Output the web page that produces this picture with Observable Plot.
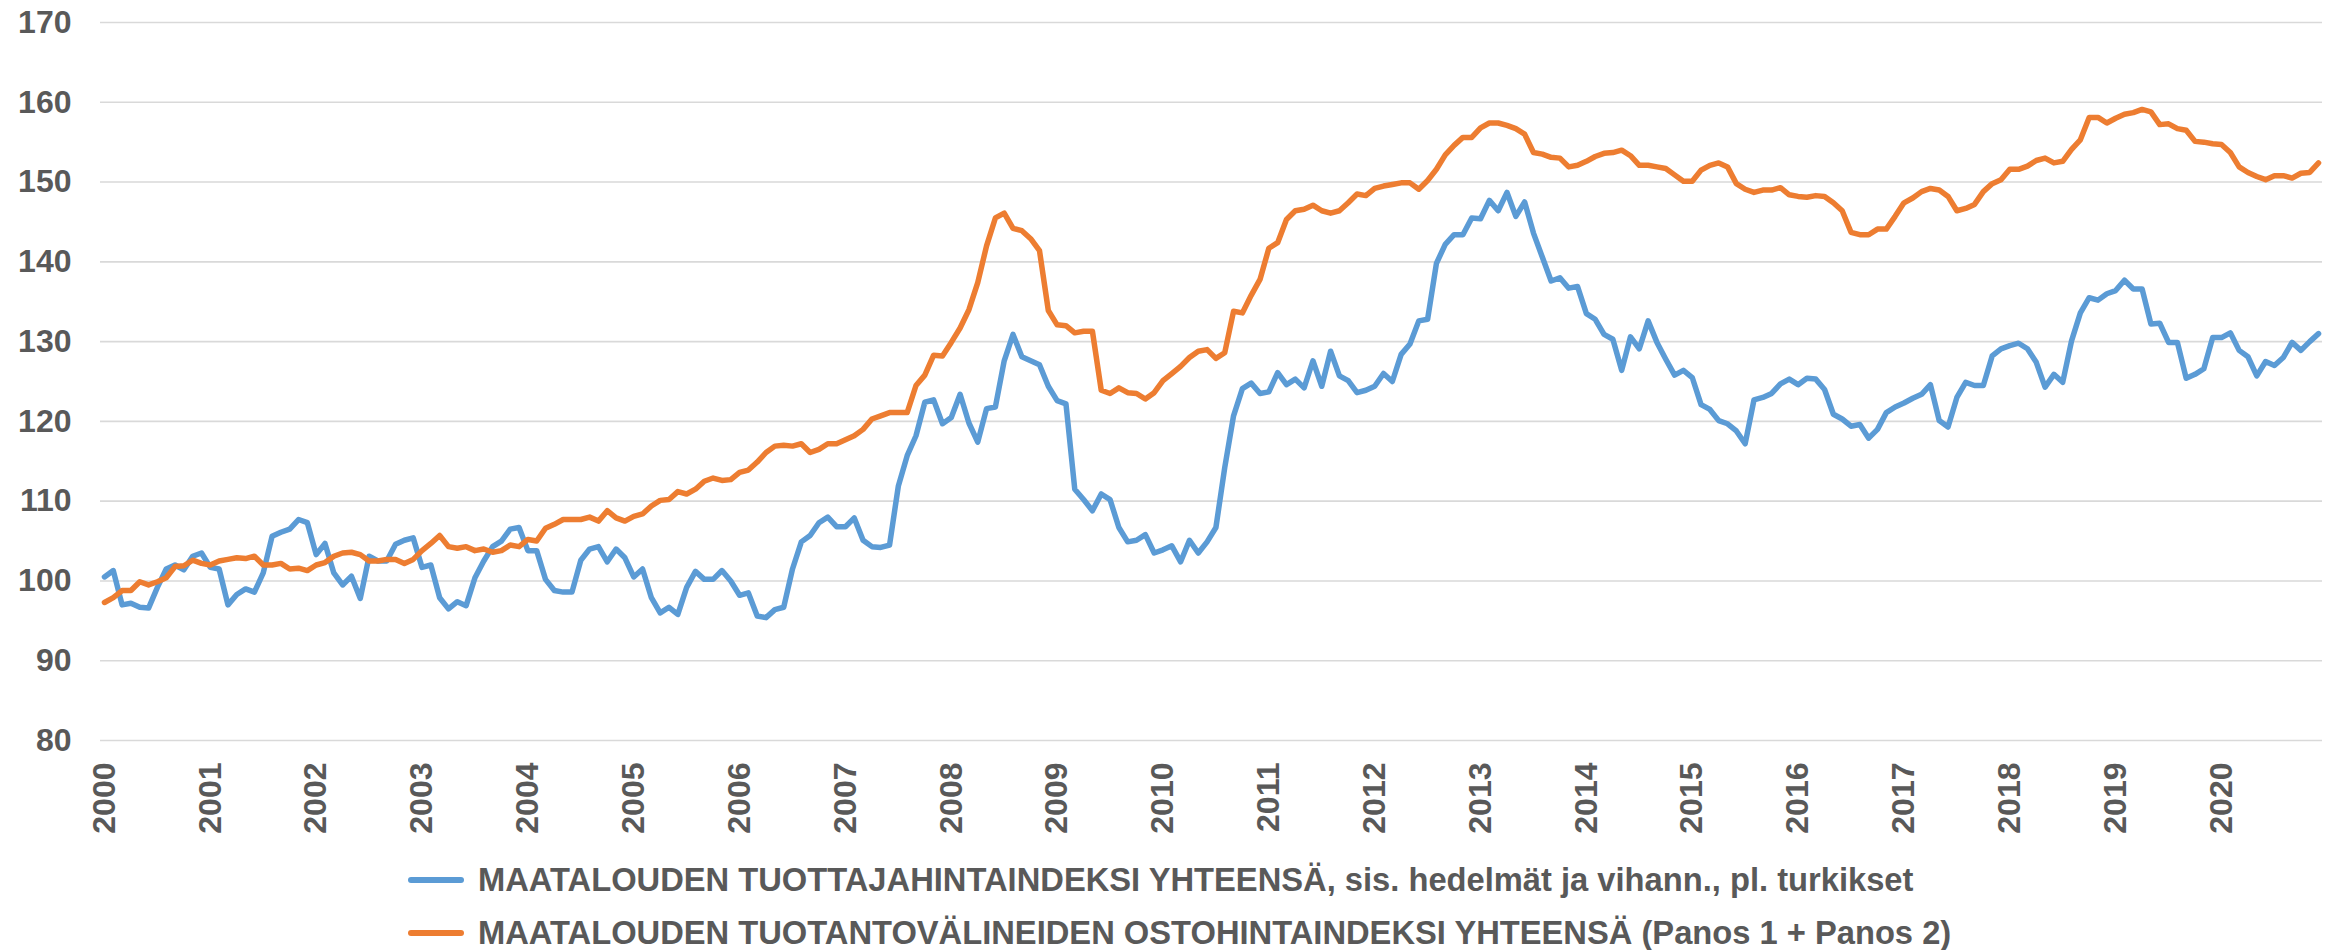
<!DOCTYPE html>
<html><head><meta charset="utf-8">
<script src="https://cdn.jsdelivr.net/npm/d3@7"></script>
<script src="https://cdn.jsdelivr.net/npm/@observablehq/plot@0.6"></script>
<style>
body{margin:0;background:#fff;}
#wrap{position:relative;width:2333px;height:950px;font-family:"Liberation Sans",Arial,sans-serif;}
.leg{position:absolute;display:flex;align-items:center;font-weight:bold;font-size:32.7px;line-height:37px;color:#595959;white-space:nowrap;}
.sw{display:inline-block;width:56px;height:6px;border-radius:3px;margin-right:14px;}
</style></head>
<body><div id="wrap"><div id="chart"></div></div>
<script>
const years = ["2000","2001","2002","2003","2004","2005","2006","2007","2008","2009","2010","2011","2012","2013","2014","2015","2016","2017","2018","2019","2020"];
const yTicks = [80,90,100,110,120,130,140,150,160,170];
const seriesNames = [
  "MAATALOUDEN TUOTTAJAHINTAINDEKSI YHTEENSÄ, sis. hedelmät ja vihann., pl. turkikset",
  "MAATALOUDEN TUOTANTOVÄLINEIDEN OSTOHINTAINDEKSI YHTEENSÄ (Panos 1 + Panos 2)"
];
const seriesColors = ["#5B9BD5", "#ED7D31"];
// monthly values, Jan 2000 – Dec 2020
const producerIndex = [
  100.5,101.3,97.0,97.2,96.7,96.6,99.2,101.5,102.0,101.4,103.1,103.5,
  101.7,101.5,97.0,98.3,99.0,98.6,101.0,105.6,106.1,106.5,107.7,107.3,
  103.3,104.7,101.0,99.5,100.6,97.8,103.1,102.5,102.5,104.6,105.1,105.4,
  101.7,102.0,97.9,96.5,97.4,96.9,100.4,102.5,104.3,105.0,106.5,106.7,
  103.8,103.8,100.2,98.8,98.6,98.6,102.6,104.0,104.3,102.4,104.0,102.9,
  100.5,101.5,97.9,96.0,96.7,95.8,99.2,101.2,100.2,100.2,101.3,100.0,
  98.2,98.5,95.6,95.4,96.4,96.7,101.5,104.9,105.7,107.3,108.0,106.8,
  106.8,107.9,105.1,104.3,104.2,104.5,111.9,115.7,118.2,122.4,122.7,119.7,
  120.5,123.4,119.8,117.4,121.6,121.8,127.6,130.9,128.1,127.6,127.1,124.4,
  122.6,122.2,111.5,110.2,108.8,110.9,110.2,106.7,104.9,105.1,105.8,103.5,
  103.9,104.4,102.4,105.1,103.5,104.9,106.7,114.2,120.7,124.1,124.8,123.5,
  123.7,126.1,124.6,125.3,124.2,127.6,124.4,128.8,125.7,125.1,123.6,123.9,
  124.4,126.0,125.0,128.4,129.7,132.6,132.8,139.8,142.2,143.4,143.4,145.5,
  145.4,147.7,146.4,148.7,145.7,147.5,143.6,140.6,137.6,138.0,136.7,136.9,
  133.5,132.8,130.9,130.3,126.4,130.6,129.1,132.6,129.9,127.8,125.8,126.4,
  125.5,122.1,121.5,120.1,119.7,118.8,117.2,122.7,123.0,123.5,124.7,125.3,
  124.6,125.4,125.3,124.0,120.9,120.3,119.4,119.6,117.9,119.0,121.1,121.8,
  122.3,122.9,123.4,124.6,120.1,119.3,123.0,124.9,124.5,124.5,128.2,129.1,
  129.5,129.8,129.1,127.4,124.3,125.9,124.9,130.1,133.6,135.5,135.2,136.0,
  136.4,137.7,136.6,136.6,132.2,132.3,129.9,129.9,125.4,125.9,126.6,130.5,
  130.5,131.1,128.9,128.1,125.7,127.5,127.0,128.0,129.9,128.9,130.0,131.0
];
const inputIndex = [
  97.3,97.9,98.8,98.8,99.9,99.5,99.9,100.4,101.8,101.9,102.6,102.2,
  102.0,102.5,102.7,102.9,102.8,103.1,102.0,102.0,102.2,101.5,101.6,101.3,
  102.0,102.3,103.1,103.5,103.6,103.3,102.5,102.5,102.7,102.7,102.2,102.7,
  103.8,104.7,105.7,104.3,104.1,104.3,103.8,104.0,103.6,103.8,104.5,104.3,
  105.2,105.0,106.6,107.1,107.7,107.7,107.7,108.0,107.5,108.8,107.9,107.5,
  108.1,108.4,109.4,110.1,110.2,111.2,110.9,111.5,112.5,112.9,112.6,112.7,
  113.6,113.9,114.9,116.1,116.9,117.0,116.9,117.2,116.1,116.5,117.2,117.2,
  117.7,118.2,119.0,120.3,120.7,121.1,121.1,121.1,124.5,125.8,128.3,128.2,
  129.9,131.7,134.0,137.4,142.0,145.5,146.1,144.2,143.9,142.9,141.4,133.9,
  132.1,132.0,131.1,131.3,131.3,123.9,123.5,124.2,123.6,123.5,122.8,123.6,
  125.1,126.0,126.9,128.0,128.8,129.0,127.9,128.6,133.8,133.6,135.8,137.8,
  141.7,142.4,145.3,146.4,146.6,147.1,146.4,146.1,146.4,147.4,148.5,148.3,
  149.2,149.5,149.7,149.9,149.9,149.1,150.2,151.6,153.4,154.6,155.6,155.6,
  156.8,157.4,157.4,157.1,156.7,156.0,153.7,153.5,153.1,153.0,151.9,152.1,
  152.6,153.2,153.6,153.7,154.0,153.3,152.1,152.1,151.9,151.7,150.9,150.1,
  150.1,151.5,152.1,152.4,151.9,149.8,149.1,148.7,149.0,149.0,149.3,148.4,
  148.2,148.1,148.3,148.2,147.4,146.4,143.7,143.4,143.4,144.1,144.1,145.7,
  147.4,148.0,148.8,149.2,149.0,148.2,146.4,146.7,147.2,148.8,149.8,150.3,
  151.6,151.6,152.0,152.7,153.0,152.4,152.6,154.1,155.3,158.1,158.1,157.4,
  158.0,158.5,158.7,159.1,158.8,157.2,157.3,156.7,156.5,155.1,155.0,154.8,
  154.7,153.7,151.9,151.2,150.7,150.3,150.8,150.8,150.5,151.1,151.2,152.4
];

const xTicks = years.map((y, k) => k * 12);
const n = producerIndex.length;

const chart = Plot.plot({
  width: 2333,
  height: 850,
  marginTop: 22,
  marginBottom: 110,
  marginLeft: 100,
  marginRight: 11,
  style: {fontFamily: '"Liberation Sans", Arial, sans-serif', fontWeight: "bold", fontSize: "32px", color: "#595959", background: "#fff"},
  x: {domain: [-0.45, n - 1 + 0.45]},
  y: {domain: [80, 170]},
  marks: [
    Plot.gridY(yTicks, {stroke: "#d9d9d9", strokeOpacity: 1, strokeWidth: 1.6}),
    Plot.axisY(yTicks, {tickSize: 0, tickPadding: 29, label: null}),
    Plot.axisX(xTicks, {tickSize: 0, tickPadding: 22, tickRotate: -90, tickFormat: i => years[i / 12], label: null}),
    Plot.lineY(producerIndex, {x: (d, i) => i, y: d => d, stroke: seriesColors[0], strokeWidth: 5.5}),
    Plot.lineY(inputIndex, {x: (d, i) => i, y: d => d, stroke: seriesColors[1], strokeWidth: 5.5})
  ]
});
document.getElementById("chart").appendChild(chart);

const wrap = document.getElementById("wrap");
const legendTops = [861, 914];
seriesNames.forEach((name, k) => {
  const row = document.createElement("div");
  row.className = "leg";
  row.style.left = "408px";
  row.style.top = legendTops[k] + "px";
  const sw = document.createElement("span");
  sw.className = "sw";
  sw.style.background = seriesColors[k];
  row.appendChild(sw);
  row.appendChild(document.createTextNode(name));
  wrap.appendChild(row);
});
</script>
</body></html>
